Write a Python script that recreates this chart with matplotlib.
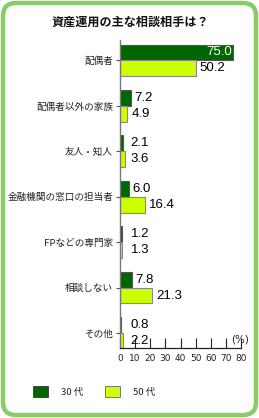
import matplotlib
matplotlib.use("Agg")
import matplotlib.pyplot as plt
from matplotlib.patches import FancyBboxPatch, Rectangle
import numpy as np

plt.rcParams['font.family'] = ['Noto Sans CJK JP', 'DejaVu Sans']

title = "資産運用の主な相談相手は？"
categories = ["配偶者", "配偶者以外の家族", "友人・知人", "金融機関の窓口の担当者",
              "FPなどの専門家", "相談しない", "その他"]
series_names = ["30 代", "50 代"]
values_30 = [75.0, 7.2, 2.1, 6.0, 1.2, 7.8, 0.8]
values_50 = [50.2, 4.9, 3.6, 16.4, 1.3, 21.3, 2.2]
xticks = [0, 10, 20, 30, 40, 50, 60, 70, 80]

c_dark = "#006600"
c_light = "#ccff00"
border = "#88cc66"

W, H = 259, 418
fig = plt.figure(figsize=(W / 100, H / 100), dpi=100)
fig.patch.set_facecolor("white")

# rounded border
bg = FancyBboxPatch((3 / W, 3 / H), (W - 6) / W, (H - 6) / H,
                    boxstyle="round,pad=0,rounding_size=0.05",
                    transform=fig.transFigure, facecolor="white",
                    edgecolor=border, linewidth=3.2, mutation_aspect=W / H, zorder=-5)
fig.patches.append(bg)

fig.text(130 / W, 1 - 22 / H, title, ha="center", va="center",
         fontsize=8.7, fontweight="bold", color="#111111")

ax = fig.add_axes([120 / W, 1 - 348 / H, (241 - 120) / W, (348 - 40) / H])
ax.set_facecolor("none")
ax.set_zorder(2)

n = len(categories)
y = np.arange(n)
bh = 0.35
ax.barh(y - bh / 2, values_30, height=bh, color=c_dark, edgecolor="#555555", linewidth=0.8)
ax.barh(y + bh / 2, values_50, height=bh, color=c_light, edgecolor="#888888", linewidth=0.8)

ax.set_xlim(0, 80)
ax.set_ylim(6.33, -0.45)

for i, (a, b) in enumerate(zip(values_30, values_50)):
    if a > 60:
        ax.text(a - 1, i - bh / 2, f"{a:.1f}", ha="right", va="center",
                fontsize=9.5, color="white", family=["Liberation Sans"])
    else:
        ax.text(max(a, 4.5) + 2.5, i - bh / 2, f"{a:.1f}", ha="left", va="center",
                fontsize=9.5, color="black", family=["Liberation Sans"])
    ax.text(max(b, 4.5) + 2.5, i + bh / 2, f"{b:.1f}", ha="left", va="center",
            fontsize=9.5, color="black", family=["Liberation Sans"])

ax.set_yticks(y)
ax.set_yticklabels(categories, fontsize=6.9, color="#222222")
ax.tick_params(axis="y", length=3, width=0.8, color="#555555", pad=2)

ax.set_xticks(xticks)
ax.set_xticklabels([str(t) for t in xticks], fontsize=6.5, family=["DejaVu Sans"], color="#222222")
ax.tick_params(axis="x", direction="in", length=7, width=0.8, color="#222222", pad=4)

for s in ["top", "right"]:
    ax.spines[s].set_visible(False)
ax.spines["left"].set_color("#777777")
ax.spines["left"].set_linewidth(1.0)
ax.spines["bottom"].set_color("#222222")
ax.spines["bottom"].set_linewidth(0.9)

fig.text(249 / W, 1 - 340 / H, "(%)", ha="right", va="center", fontsize=7.5,
         family=["DejaVu Sans"], color="#222222")

# legend
for x0, col, name, ec in [(33, c_dark, series_names[0], "#444444"), (105, c_light, series_names[1], "#777777")]:
    fig.patches.append(Rectangle((x0 / W, 1 - 397 / H), 15 / W, 11 / H,
                                 transform=fig.transFigure, facecolor=col,
                                 edgecolor=ec, linewidth=0.7))
    fig.text((x0 + 28) / W, 1 - 392 / H, name, ha="left", va="center",
             fontsize=6.8, color="#222222")

fig.savefig("out.png", dpi=100)
